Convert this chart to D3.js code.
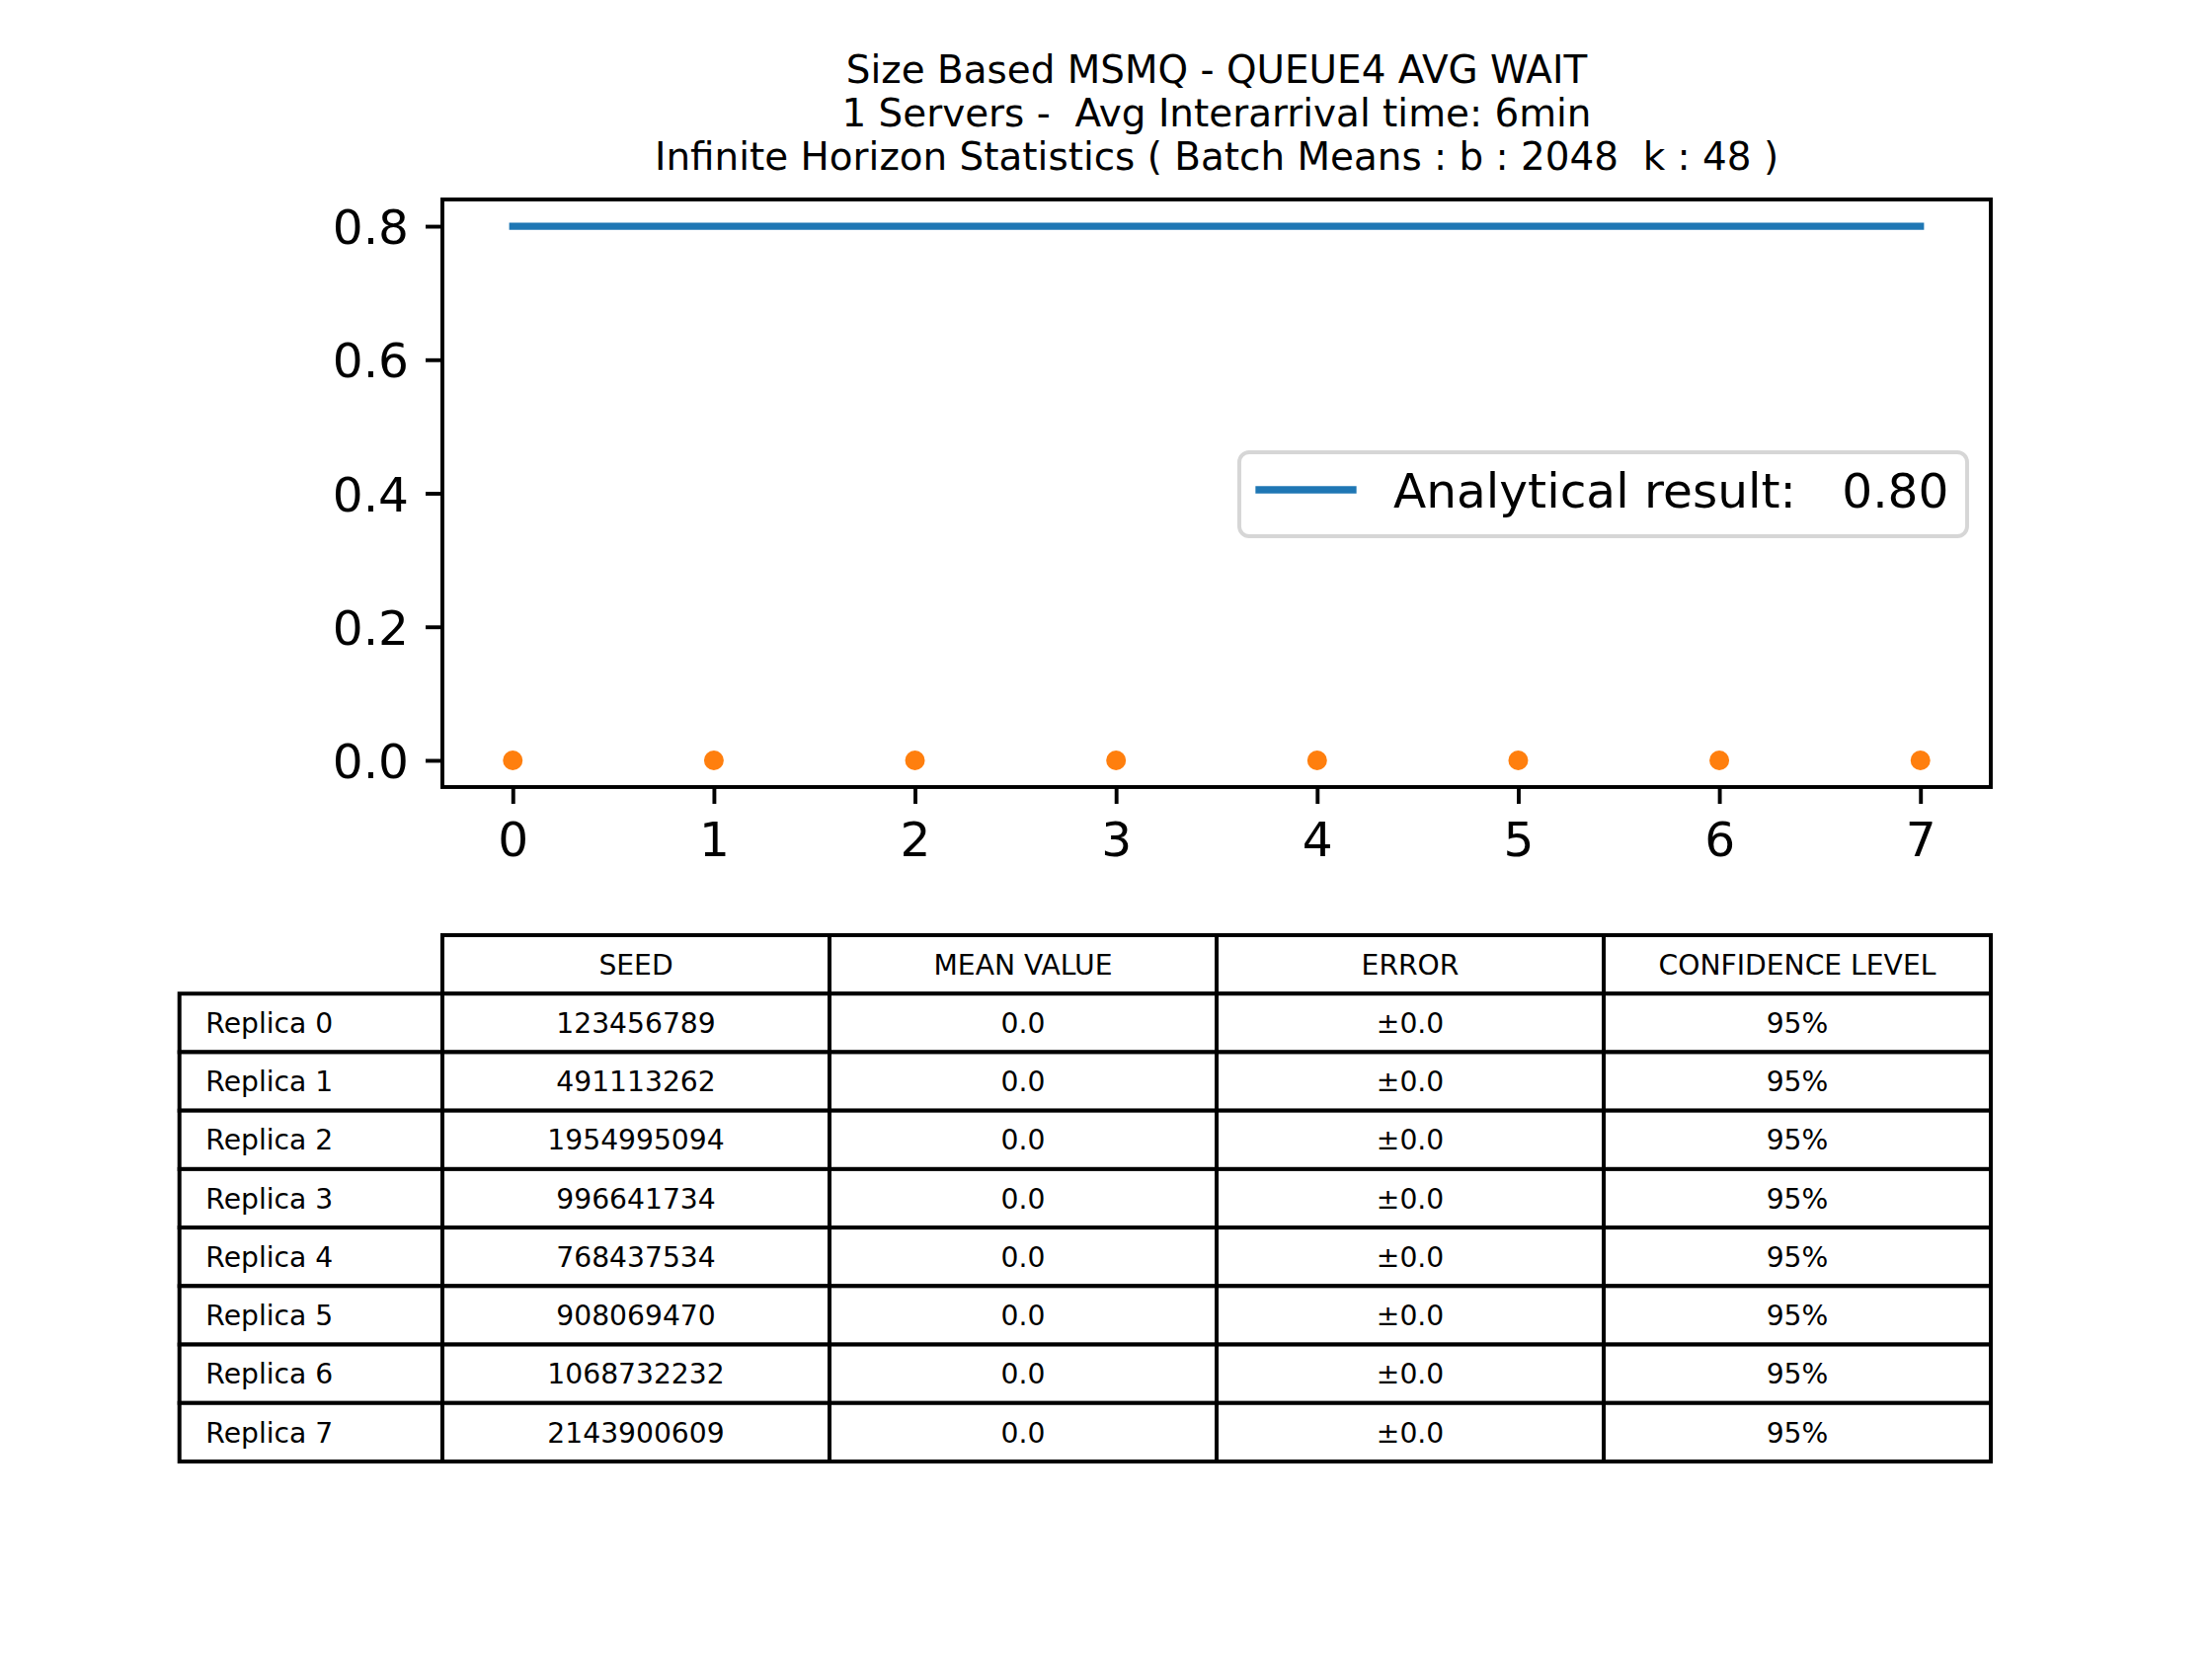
<!DOCTYPE html>
<html>
<head>
<meta charset="utf-8">
<script src="https://cdn.jsdelivr.net/npm/d3@7"></script>
<style>
  html, body { margin: 0; padding: 0; background: #fff; }
  text { font-family: "DejaVu Sans", sans-serif; white-space: pre; }
</style>
</head>
<body>
<svg id="chart" width="2240" height="1680"></svg>
<script>
// ---- data ----
const titleLines = [
  "Size Based MSMQ - QUEUE4 AVG WAIT",
  "1 Servers -  Avg Interarrival time: 6min",
  "Infinite Horizon Statistics ( Batch Means : b : 2048  k : 48 )"
];
const replicaIdx = [0, 1, 2, 3, 4, 5, 6, 7];
const replicaMeans = [0.0, 0.0, 0.0, 0.0, 0.0, 0.0, 0.0, 0.0];
const analyticalValue = 0.80;
const xTicks = [0, 1, 2, 3, 4, 5, 6, 7];
const yTicks = [0.0, 0.2, 0.4, 0.6, 0.8];
const legendLabel = "Analytical result:   0.80";
const tableHeaders = ["SEED", "MEAN VALUE", "ERROR", "CONFIDENCE LEVEL"];
const rowLabels = ["Replica 0","Replica 1","Replica 2","Replica 3","Replica 4","Replica 5","Replica 6","Replica 7"];
const seeds = ["123456789","491113262","1954995094","996641734","768437534","908069470","1068732232","2143900609"];
const meanTexts = ["0.0","0.0","0.0","0.0","0.0","0.0","0.0","0.0"];
const errorTexts = ["\u00b10.0","\u00b10.0","\u00b10.0","\u00b10.0","\u00b10.0","\u00b10.0","\u00b10.0","\u00b10.0"];
const confTexts = ["95%","95%","95%","95%","95%","95%","95%","95%"];

// ---- layout ----
const svg = d3.select("#chart");
const plot = { left: 448, right: 2016, top: 202, bottom: 797 };
const blue = "#1f77b4", orange = "#ff7f0e";
const tickFont = 48.6;

const x = d3.scaleLinear().domain([-0.35, 7.35]).range([plot.left, plot.right]);
const y = d3.scaleLinear().domain([-0.04, 0.84]).range([plot.bottom, plot.top]);

// title
const titleG = svg.append("g");
titleLines.forEach((t, i) => {
  titleG.append("text")
    .attr("x", (plot.left + plot.right) / 2)
    .attr("y", 84.3 + i * 43.7)
    .attr("text-anchor", "middle")
    .attr("font-size", 38.9)
    .attr("fill", "#000")
    .text(t);
});

// analytical line
svg.append("line")
  .attr("x1", x(0)).attr("x2", x(7))
  .attr("y1", y(analyticalValue)).attr("y2", y(analyticalValue))
  .attr("stroke", blue).attr("stroke-width", 7.3)
  .attr("stroke-linecap", "square");

// points
svg.append("g").selectAll("circle")
  .data(replicaIdx)
  .join("circle")
  .attr("cx", d => x(d))
  .attr("cy", (d, i) => y(replicaMeans[i]))
  .attr("r", 10)
  .attr("fill", orange);

// axes
const xAxis = d3.axisBottom(x).tickValues(xTicks).tickFormat(d3.format("d"))
  .tickSize(17).tickPadding(17);
const yAxis = d3.axisLeft(y).tickValues(yTicks).tickFormat(d3.format(".1f"))
  .tickSize(17).tickPadding(17);

const gx = svg.append("g").attr("transform", `translate(0,${plot.bottom})`).call(xAxis);
const gy = svg.append("g").attr("transform", `translate(${plot.left},0)`).call(yAxis);
[gx, gy].forEach(g => {
  g.select(".domain").remove();
  g.selectAll(".tick line").attr("stroke", "#000").attr("stroke-width", 3.9);
  g.selectAll(".tick text").attr("font-size", tickFont).attr("fill", "#000")
    .attr("font-family", "DejaVu Sans");
});
gx.selectAll(".tick text").attr("dy", "0.75em");
gy.selectAll(".tick text").attr("dy", "0.36em");

// frame
svg.append("rect")
  .attr("x", plot.left).attr("y", plot.top)
  .attr("width", plot.right - plot.left).attr("height", plot.bottom - plot.top)
  .attr("fill", "none").attr("stroke", "#000").attr("stroke-width", 3.9);

// legend
const lg = svg.append("g");
lg.append("rect")
  .attr("x", 1255).attr("y", 458).attr("width", 737).attr("height", 85)
  .attr("rx", 10).attr("ry", 10)
  .attr("fill", "#fff").attr("fill-opacity", 0.8)
  .attr("stroke", "#d6d6d6").attr("stroke-width", 3.9);
lg.append("line")
  .attr("x1", 1275).attr("x2", 1370).attr("y1", 496).attr("y2", 496)
  .attr("stroke", blue).attr("stroke-width", 7.3).attr("stroke-linecap", "square");
lg.append("text")
  .attr("x", 1411).attr("y", 514)
  .attr("font-size", tickFont).attr("fill", "#000")
  .text(legendLabel);

// table
const colKeys = ["label", "seed", "mean", "err", "conf"];
const colEdges = [181.7, 448, 840, 1232, 1624, 2016];
const colScale = d3.scaleOrdinal().domain(colKeys).range(colEdges.slice(0, 5));
const colWidth = k => colEdges[colKeys.indexOf(k) + 1] - colEdges[colKeys.indexOf(k)];
const rowKeys = ["header"].concat(rowLabels);
const rowScale = d3.scaleBand().domain(rowKeys).range([947, 1480]).padding(0);
const tableFont = 28.2;

const rowsData = rowLabels.map((lab, i) => ({
  label: lab, seed: seeds[i], mean: meanTexts[i], err: errorTexts[i], conf: confTexts[i]
}));

const tg = svg.append("g");
const cells = [];
tableHeaders.forEach((h, j) => {
  cells.push({ row: "header", col: colKeys[j + 1], text: h, align: "middle" });
});
rowsData.forEach(r => {
  colKeys.forEach(k => {
    cells.push({ row: r.label, col: k, text: r[k], align: k === "label" ? "start" : "middle" });
  });
});

tg.selectAll("rect").data(cells).join("rect")
  .attr("x", d => colScale(d.col))
  .attr("y", d => rowScale(d.row))
  .attr("width", d => colWidth(d.col))
  .attr("height", rowScale.bandwidth())
  .attr("fill", "#fff")
  .attr("stroke", "#000").attr("stroke-width", 4);

tg.selectAll("text").data(cells).join("text")
  .attr("x", d => d.align === "start"
      ? colScale(d.col) + 0.1 * colWidth(d.col)
      : colScale(d.col) + colWidth(d.col) / 2)
  .attr("y", d => rowScale(d.row) + rowScale.bandwidth() / 2)
  .attr("dy", "0.36em")
  .attr("text-anchor", d => d.align)
  .attr("font-size", tableFont)
  .attr("fill", "#000")
  .text(d => d.text);
</script>
</body>
</html>
